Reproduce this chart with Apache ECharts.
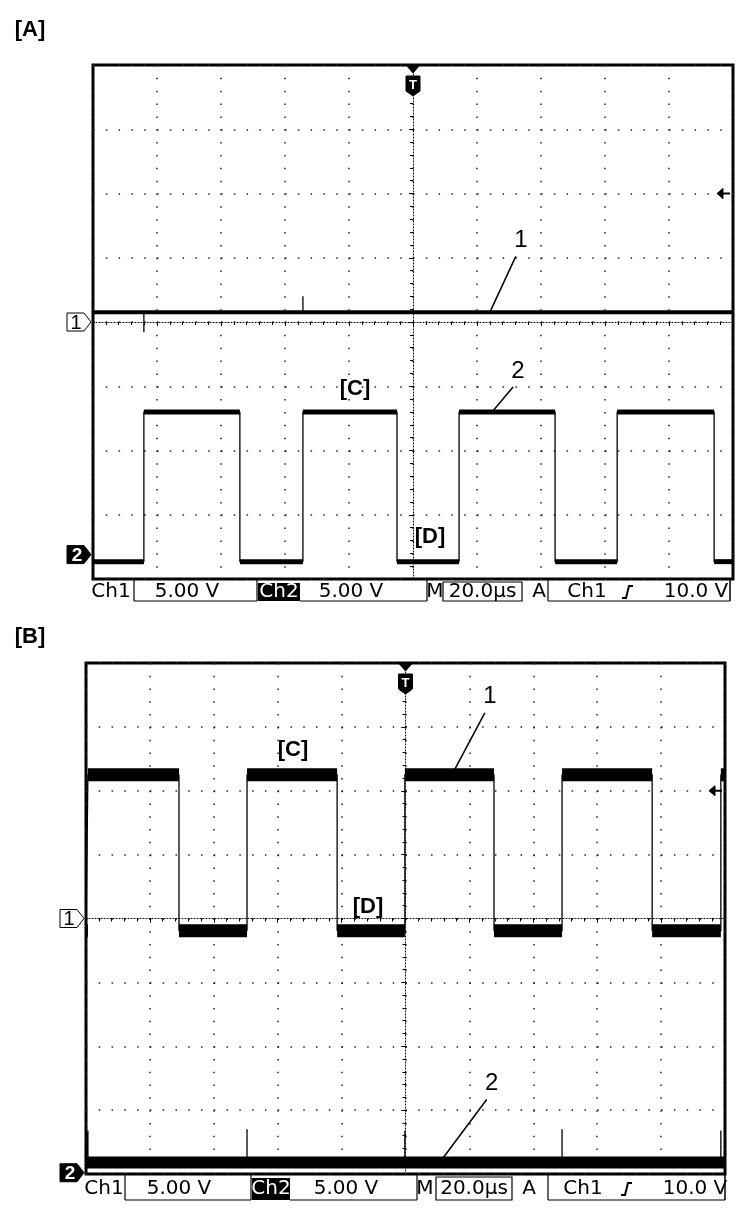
<!DOCTYPE html>
<html><head><meta charset="utf-8">
<script src="https://cdn.jsdelivr.net/npm/echarts@6/dist/echarts.min.js"></script>
<style>html,body{margin:0;padding:0;background:#fff}#c{width:741px;height:1214px}</style>
</head><body><div id="c"></div>
<script>
// ================= DATA =================
const panelTitles = ['[A]', '[B]'];
const timeMin = -100, timeMax = 100;      // µs, trigger at 0
const timePerDiv = 20;                    // µs / div (M 20.0µs)
const voltsPerDiv = 5;                    // 5.00 V / div both channels
const divMin = -4, divMax = 4;
const triggerLevelV = 10.0;

// Panel A
const A_ch1_level = 0.75;                                  // V
const A_ch1_spikes = [[-84.1, -0.8], [-34.4, 2.0]];        // [µs, V]
const A_ch2_edges = [-84.1, -54.1, -34.4, -5.0, 14.4, 44.4, 63.8, 94.1]; // µs, starts low
const A_ch2_low = -0.55, A_ch2_high = 11.1;                // V

// Panel B
const B_ch1_edges = [-99.4, -70.9, -49.6, -21.4, -0.2, 27.7, 49.0, 77.2, 98.7]; // µs, starts low
const B_ch1_low = -0.95, B_ch1_high = 11.25;               // V
const B_ch2_level = 0.8;                                   // V
const B_ch2_spikes = [[-99.4, 3.3], [-49.6, 3.4], [-0.2, 3.3], [49.0, 3.4], [98.7, 3.3]];

// channel ground positions (divisions from centre)
const groundA1 = 0, groundA2 = -3.62, groundB1 = 0, groundB2 = -3.98;

// readout texts
const readCh1 = 'Ch1', readCh2 = 'Ch2', readV1 = '5.00 V', readV2 = '5.00 V';
const readM = 'M', readTime = '20.0µs', readA = 'A', readTrigSrc = 'Ch1', readTrigLvl = '10.0 V';

// ================= BUILD =================
const toDiv = (v, g) => v / voltsPerDiv + g;

function squareWave(edges, low, high, g) {
  let cur = low; const pts = [[timeMin, toDiv(cur, g)]]; const segs = []; let s = timeMin;
  edges.forEach(e => {
    pts.push([e, toDiv(cur, g)]); segs.push([s, e, toDiv(cur, g)]);
    cur = (cur === high) ? low : high;
    pts.push([e, toDiv(cur, g)]); s = e;
  });
  pts.push([timeMax, toDiv(cur, g)]); segs.push([s, timeMax, toDiv(cur, g)]);
  return { pts, segs };
}
function flatTrace(level, spikes, g) {
  const L = toDiv(level, g); const pts = [[timeMin, L]];
  spikes.forEach(([t, v]) => { pts.push([t, L], [t, toDiv(v, g)], [t, L]); });
  pts.push([timeMax, L]);
  return { pts, segs: [[timeMin, timeMax, L]] };
}

const A1 = flatTrace(A_ch1_level, A_ch1_spikes, groundA1);
const A2 = squareWave(A_ch2_edges, A_ch2_low, A_ch2_high, groundA2);
const B1 = squareWave(B_ch1_edges, B_ch1_low, B_ch1_high, groundB1);
const B2 = flatTrace(B_ch2_level, B_ch2_spikes, groundB2);

const grids = [
  { left: 93, top: 65, width: 640, height: 514 },
  { left: 86, top: 663, width: 639, height: 511 }
];

const chart = echarts.init(document.getElementById('c'));

const dot = (len) => [1.5, len / 5 - 1.5];
const xAxes = [], yAxes = [];
grids.forEach((g, gi) => {
  const stepX = g.width / 10, stepY = g.height / 8;
  xAxes.push({
    gridIndex: gi, type: 'value', min: timeMin, max: timeMax, interval: timePerDiv, position: 'bottom',
    axisLine: { show: true, onZero: true, lineStyle: { color: '#000', width: 1, type: [1, 2] } },
    axisTick: { show: true, length: 4, lineStyle: { color: '#000', width: 1 } },
    minorTick: { show: true, splitNumber: 5, length: 3, lineStyle: { color: '#000', width: 1 } },
    axisLabel: { show: false },
    splitLine: { show: true, lineStyle: { color: '#222', width: 1.5, type: dot(stepY) } }
  });
  xAxes.push({
    gridIndex: gi, type: 'value', min: timeMin, max: timeMax, interval: timePerDiv, position: 'top',
    axisLine: { show: false }, axisLabel: { show: false }, splitLine: { show: false },
    axisTick: { show: true, inside: true, length: 4, lineStyle: { color: '#000' } },
    minorTick: { show: true, splitNumber: 5, length: 2, lineStyle: { color: '#000' } }
  });
  yAxes.push({
    gridIndex: gi, type: 'value', min: divMin, max: divMax, interval: 1, position: 'left',
    axisLine: { show: true, onZero: true, lineStyle: { color: '#000', width: 1, type: [1, 2] } },
    axisTick: { show: true, length: 4, lineStyle: { color: '#000', width: 1 } },
    minorTick: { show: true, splitNumber: 5, length: 3, lineStyle: { color: '#000', width: 1 } },
    axisLabel: { show: false },
    splitLine: { show: true, lineStyle: { color: '#222', width: 1.5, type: dot(stepX) } }
  });
  yAxes.push({
    gridIndex: gi, type: 'value', min: divMin, max: divMax, interval: 1, position: 'right',
    axisLine: { show: false }, axisLabel: { show: false }, splitLine: { show: false },
    axisTick: { show: true, inside: true, length: 4, lineStyle: { color: '#000' } },
    minorTick: { show: true, splitNumber: 5, length: 2, lineStyle: { color: '#000' } }
  });
});

function lineSeries(tr, ai) {
  return { type: 'line', xAxisIndex: ai, yAxisIndex: ai, data: tr.pts, showSymbol: false, silent: true,
    animation: false, clip: true, lineStyle: { color: '#000', width: 1.3 }, z: 5 };
}
function bandSeries(tr, ai, h) {
  return { type: 'custom', xAxisIndex: ai, yAxisIndex: ai, data: tr.segs, silent: true, animation: false,
    encode: { x: [0, 1], y: 2 }, z: 6,
    renderItem: function (params, api) {
      const p0 = api.coord([api.value(0), api.value(2)]);
      const p1 = api.coord([api.value(1), api.value(2)]);
      return { type: 'rect', shape: { x: p0[0], y: p0[1] - h / 2, width: p1[0] - p0[0], height: h },
        style: { fill: '#000' } };
    } };
}

chart.setOption({
  animation: false,
  backgroundColor: '#fff',
  grid: grids.map(g => Object.assign({ show: true, borderColor: '#000', borderWidth: 3, backgroundColor: '#fff' }, g)),
  xAxis: xAxes, yAxis: yAxes,
  series: [
    lineSeries(A1, 0), bandSeries(A1, 0, 4),
    lineSeries(A2, 0), bandSeries(A2, 0, 5),
    lineSeries(B1, 2), bandSeries(B1, 2, 13),
    lineSeries(B2, 2), bandSeries(B2, 2, 12)
  ]
});

// ================= ANNOTATIONS =================
const px = (ai, pt) => chart.convertToPixel({ xAxisIndex: ai, yAxisIndex: ai }, pt);
const G = [];
const labelFont = '"Liberation Sans", Arial, sans-serif';
const roFont = '"DejaVu Sans", sans-serif';

function text(x, y, s, size, bold, color, align) {
  G.push({ type: 'text', x: x, y: y, z: 100, style: { text: s, fill: color || '#000',
    font: (bold ? 'bold ' : '') + size + 'px ' + labelFont, textAlign: align || 'center', textVerticalAlign: 'middle' } });
}
function roText(x, y, s, color) {
  G.push({ type: 'text', x: x, y: y, z: 100, style: { text: s, fill: color || '#000',
    font: '20px ' + roFont, textAlign: 'center', textVerticalAlign: 'middle' } });
}
function line(x1, y1, x2, y2, w) {
  G.push({ type: 'line', z: 100, shape: { x1, y1, x2, y2 }, style: { stroke: '#000', lineWidth: w || 1.5 } });
}
function poly(points, fill, stroke) {
  G.push({ type: 'polygon', z: 100, shape: { points }, style: { fill: fill || 'none', stroke: stroke || null, lineWidth: 1 } });
}

function chMarker(ai, ground, label, filled) {
  const p = px(ai, [timeMin, ground]); const tx = p[0] - 2, ty = p[1];
  const pts = [[tx - 24, ty - 9], [tx - 7, ty - 9], [tx, ty], [tx - 7, ty + 9], [tx - 24, ty + 9]];
  if (filled) { poly(pts, '#000', '#000'); text(tx - 14, ty + 1, label, 19, true, '#fff'); }
  else { poly(pts, '#fff', '#000'); text(tx - 15, ty + 1, label, 20, false, '#000'); }
}
function trigMarker(ai) {
  const p = px(ai, [0, divMax]); const cx = p[0], top = p[1];
  poly([[cx - 6, top + 1], [cx + 6, top + 1], [cx, top + 8]], '#000', '#000');
  poly([[cx - 7, top + 11], [cx + 7, top + 11], [cx + 7, top + 26], [cx, top + 31], [cx - 7, top + 26]], '#000', '#000');
  text(cx, top + 20, 'T', 13, true, '#fff');
}
function levelMarker(ai, ground) {
  const p = px(ai, [timeMax, toDiv(triggerLevelV, ground)]); const r = p[0], y = p[1];
  poly([[r - 16, y], [r - 10, y - 5], [r - 10, y + 5]], '#000', '#000');
  line(r - 11, y, r - 3, y, 2);
}

chMarker(0, groundA1, '1', false); chMarker(0, groundA2, '2', true);
chMarker(2, groundB1, '1', false); chMarker(2, groundB2, '2', true);
trigMarker(0); trigMarker(2);
levelMarker(0, groundA1); levelMarker(2, groundB1);

// titles
text(30, 30, panelTitles[0], 22, true);
text(30, 637, panelTitles[1], 22, true);

// callouts, anchored to trace positions
function callout(ai, pt, dx, dy, s) {
  const p = px(ai, pt); line(p[0], p[1], p[0] + dx, p[1] + dy, 1.5);
  text(p[0] + dx + 5, p[1] + dy - 16, s, 24, false);
}
callout(0, [24, toDiv(A_ch1_level, groundA1)], 26, -56, '1');
callout(0, [24.7, toDiv(A_ch2_high, groundA2)], 21, -25, '2');
callout(2, [14.5, toDiv(B_ch1_high, groundB1)], 33, -62, '1');
callout(2, [10.7, toDiv(B_ch2_level, groundB2)], 47, -63, '2');

text(355, 389, '[C]', 22, true); text(430, 537, '[D]', 22, true);
text(293, 750, '[C]', 22, true); text(368, 907, '[D]', 22, true);

// readout bars
function readout(top, ty, bot, L) {
  roText(L.ch1, ty, readCh1);
  line(L.b1[0], top, L.b1[0], bot, 1.2); line(L.b1[0], bot, L.b1[1], bot, 1.2); line(L.b1[1], top, L.b1[1], bot, 1.2);
  roText((L.v1), ty, readV1);
  G.push({ type: 'rect', z: 99, shape: { x: L.ch2[0], y: top + 3, width: L.ch2[1] - L.ch2[0], height: bot - top - 3 }, style: { fill: '#000' } });
  roText((L.ch2[0] + L.ch2[1]) / 2, ty, readCh2, '#fff');
  line(L.b2[0], bot, L.b2[1], bot, 1.2); line(L.b2[1], top, L.b2[1], bot, 1.2);
  roText(L.v2, ty, readV2);
  roText(L.m, ty, readM);
  G.push({ type: 'rect', z: 99, shape: { x: L.b3[0], y: top + 2, width: L.b3[1] - L.b3[0], height: bot - top - 2 }, style: { fill: 'none', stroke: '#000', lineWidth: 1.2 } });
  roText((L.b3[0] + L.b3[1]) / 2, ty, readTime);
  roText(L.a, ty, readA);
  line(L.b4[0], top, L.b4[0], bot, 1.2); line(L.b4[0], bot, L.b4[1], bot, 1.2); line(L.b4[1], top, L.b4[1], bot, 1.5);
  roText(L.src, ty, readTrigSrc);
  G.push({ type: 'polyline', z: 100, shape: { points: [[L.sym - 6, ty + 6], [L.sym - 2, ty + 6], [L.sym + 1, ty - 6], [L.sym + 5, ty - 6]] }, style: { stroke: '#000', lineWidth: 2, fill: 'none' } });
  roText(L.lvl, ty, readTrigLvl);
}
readout(580, 592, 601, { ch1: 111, b1: [134, 257], v1: 187, ch2: [258, 300], b2: [300, 427], v2: 351, m: 435,
  b3: [443, 522], a: 539, b4: [548, 730], src: 587, sym: 628, lvl: 696 });
readout(1175, 1189, 1200, { ch1: 104, b1: [125, 251], v1: 179, ch2: [252, 290], b2: [290, 417], v2: 346, m: 425,
  b3: [436, 512], a: 529, b4: [548, 725], src: 583, sym: 627, lvl: 695 });

chart.setOption({ graphic: G });
</script></body></html>
